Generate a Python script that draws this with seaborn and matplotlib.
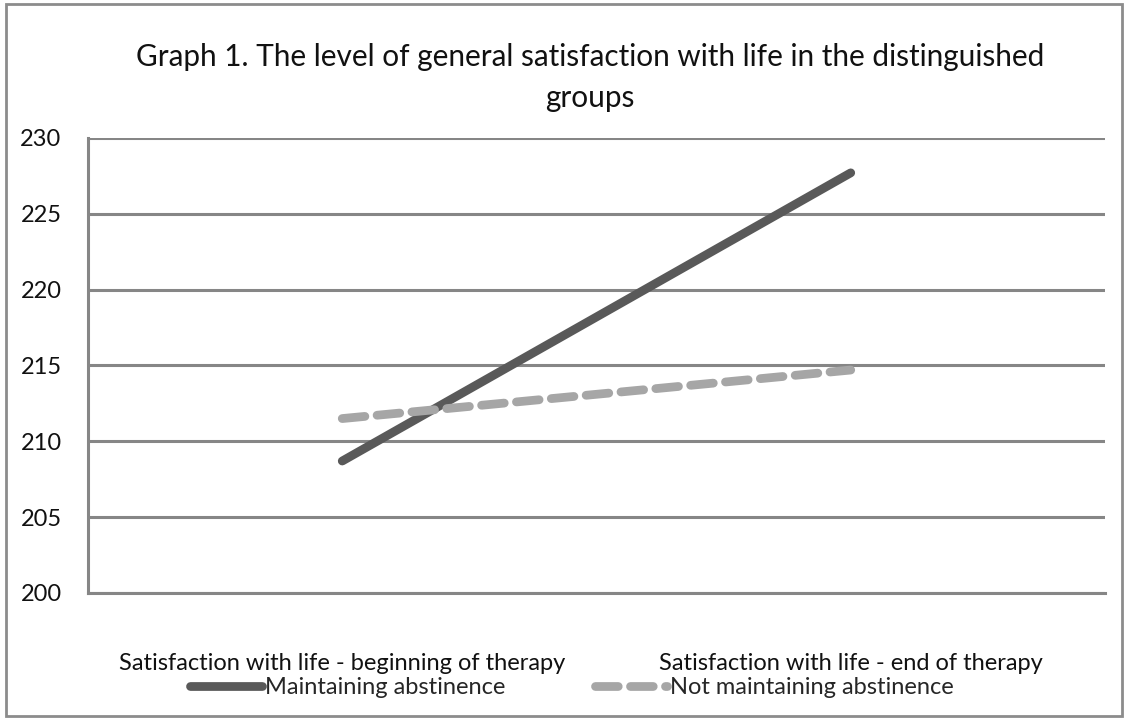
import matplotlib
matplotlib.use("Agg")
import matplotlib.pyplot as plt
from matplotlib.patches import Rectangle
from matplotlib.lines import Line2D
import seaborn as sns
import pandas as pd

# Data
stages = ["Satisfaction with life - beginning of therapy",
          "Satisfaction with life - end of therapy"]
maintaining = [208.7, 227.7]
not_maintaining = [211.5, 214.7]
series_names = ["Maintaining abstinence", "Not maintaining abstinence"]
y_ticks = [200, 205, 210, 215, 220, 225, 230]

title = "Graph 1. The level of general satisfaction with life in the distinguished\ngroups"

df = pd.DataFrame({
    "stage": stages * 2,
    "value": maintaining + not_maintaining,
    "group": [series_names[0]] * 2 + [series_names[1]] * 2,
})

sns.set_theme(style="white")
plt.rcParams["font.family"] = ["Lato", "DejaVu Sans"]

dark = "#595959"
light = "#a6a6a6"
grid_c = "#868686"
text_c = "#111111"
fs = 17

fig = plt.figure(figsize=(11.28, 7.2), dpi=100)
ax = fig.add_axes([0.078, 0.1764, 0.9016, 0.632])

sns.lineplot(data=df, x="stage", y="value", hue="group", style="group",
             palette={series_names[0]: dark, series_names[1]: light},
             dashes={series_names[0]: "", series_names[1]: (2.6, 1.4)},
             linewidth=6.3, legend=False, ax=ax, sort=False)

for ln in ax.lines:
    ln.set_solid_capstyle("round")
    ln.set_dash_capstyle("round")

ax.set_xlim(-0.5, 1.5)
ax.set_ylim(200, 230)
ax.set_yticks(y_ticks)
ax.set_yticklabels([str(v) for v in y_ticks], fontsize=fs, color=text_c)
ax.set_xticks([0, 1])
ax.set_xticklabels(stages, fontsize=fs, color=text_c)
ax.tick_params(axis="x", which="major", length=0, pad=43)
ax.tick_params(axis="y", which="major", length=7, width=2.2, color=grid_c,
               direction="out", pad=12)

# Gridlines and category boundary ticks
ax.yaxis.grid(True, color=grid_c, linewidth=2.2)
ax.set_axisbelow(True)
for side in ["top", "right"]:
    ax.spines[side].set_visible(False)
for side in ["left", "bottom"]:
    ax.spines[side].set_color(grid_c)
    ax.spines[side].set_linewidth(2.2)

ax.set_xticks([-0.5, 0.5, 1.5], minor=True)
ax.tick_params(axis="x", which="minor", length=7, width=2.2, color=grid_c, direction="out")
ax.set_xlabel("")
ax.set_ylabel("")

fig.text(0.523, 0.892, title, ha="center", va="center", fontsize=21.4,
         color=text_c, linespacing=1.55)

handles = [Line2D([], [], color=dark, linewidth=6.3, solid_capstyle="round"),
           Line2D([], [], color=light, linewidth=6.3, linestyle=(0, (2.6, 1.4)),
                  dash_capstyle="round")]
fig.legend(handles, series_names, loc="center", bbox_to_anchor=(0.507, 0.045),
           ncol=2, frameon=False, fontsize=fs, handlelength=3.05,
           handletextpad=0.12, columnspacing=3.8)

fig.patches.append(Rectangle((0.005, 0.006), 0.99, 0.988, transform=fig.transFigure,
                             fill=False, edgecolor="#8c8c8c", linewidth=2))

fig.savefig("out.png", dpi=100)
